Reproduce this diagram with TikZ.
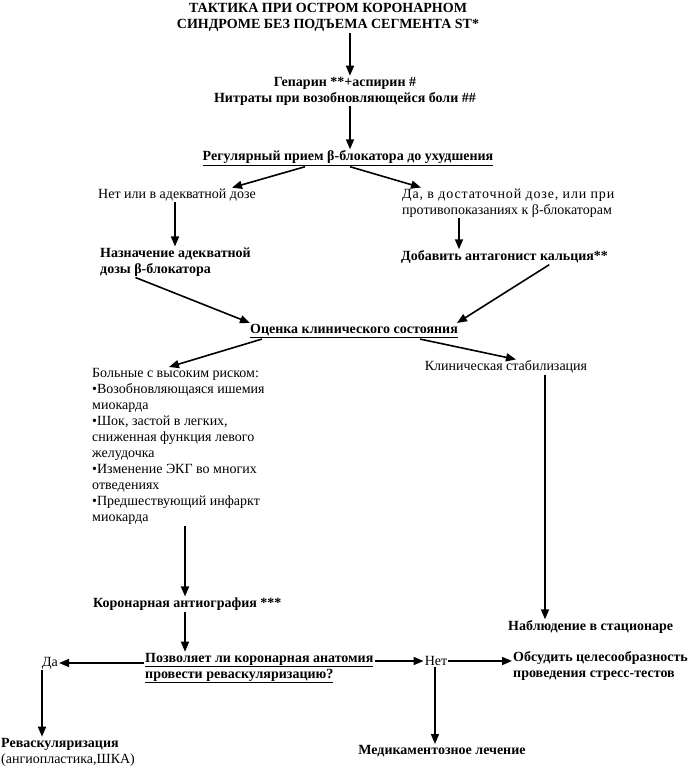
\documentclass[tikz,border=0pt]{standalone}
\usepackage{fontspec}
\setmainfont{Liberation Serif}
\usetikzlibrary{arrows.meta}

\begin{document}
\begin{tikzpicture}[x=1pt,y=-1pt,
	every node/.style={inner sep=1pt, font=\fontsize{14}{16}\selectfont},
	hd/.style={font=\fontsize{14}{16}\selectfont\bfseries},
	arr/.style={-{Triangle[length=10pt,width=8pt]},line width=1.6pt}]
	\useasboundingbox (0,0) rectangle (700,776);

	\node[hd,align=center] (t) at (328,17) {ТАКТИКА ПРИ ОСТРОМ КОРОНАРНОМ\\СИНДРОМЕ БЕЗ ПОДЪЕМА СЕГМЕНТА ST*};
	\node[hd,align=center] (g) at (345,91) {Гепарин **+аспирин \#\\Нитраты при возобновляющейся боли \#\#};
	\node[hd] (bb) at (348,158) {\underline{Регулярный прием β-блокатора до ухудшения}};

	\node (no) at (177,195) {Нет или в адекватной дозе};
	\node[anchor=west,align=left] (yes) at (401,203) {{\addfontfeature{LetterSpace=6}Да, в достаточной дозе, или при}\\противопоказаниях к β-блокаторам};
	\node[hd,anchor=west,align=left] (dose) at (99,262) {Назначение адекватной\\дозы β-блокатора};
	\node[hd,anchor=west] (ca) at (400,257) {Добавить антагонист кальция**};

	\node[hd] (eval) at (354,331) {\underline{Оценка клинического состояния}};
	\node[anchor=north west,align=left] (risk) at (91,367) {Больные с высоким риском:\\
		•Возобновляющаяся ишемия\\миокарда\\
		•Шок, застой в легких,\\сниженная функция левого\\желудочка\\
		•Изменение ЭКГ во многих\\отведениях\\
		•Предшествующий инфаркт\\миокарда};
	\node (stab) at (506,367) {Клиническая стабилизация};
	\node[hd,anchor=west] (obs) at (507,627) {Наблюдение в стационаре};

	\node[hd,anchor=west] (cag) at (92,604) {Коронарная антиография ***};
	\node[hd,anchor=west,align=left] (q) at (144,668) {\underline{Позволяет ли коронарная анатомия}\\\underline{провести реваскуляризацию?}};
	\node (yes2) at (50,663) {Да};
	\node (no2) at (436,661) {Нет};
	\node[hd,anchor=west,align=left] (disc) at (512,666) {Обсудить целесообразность\\проведения стресс-тестов};
	\node[anchor=west,align=left] (rev) at (0,752) {\textbf{Реваскуляризация}\\(ангиопластика,ШКА)};
	\node[hd] (med) at (442,751) {Медикаментозное лечение};

	\draw [arr] (350,33) -- (g.north -| 350,0);
	\draw [arr] (g.south -| 350,0) -- (bb.north -| 350,0);
	\draw [arr] ([xshift=-43pt]bb.south) -- ([xshift=55pt]no.north);
	\draw [arr] ([xshift=2pt]bb.south) -- ([xshift=20pt]yes.north west);
	\draw [arr] (no.south -| 175,0) -- (dose.north -| 175,0);
	\draw [arr] (yes.south -| 459,0) -- (ca.north -| 459,0);
	\draw [arr] ([xshift=-40pt]dose.south) -- ([xshift=-104pt]eval.north);
	\draw [arr] ([xshift=-60pt]ca.south east) -- ([xshift=103pt]eval.north);
	\draw [arr] ([xshift=-92pt]eval.south) -- ([xshift=78pt]risk.north west);
	\draw [arr] ([xshift=66pt]eval.south) -- ([xshift=10pt]stab.north);
	\draw [arr] (stab.south -| 545,0) -- (obs.north -| 545,0);
	\draw [arr] (risk.south -| 185,0) -- (cag.north -| 185,0);
	\draw [arr] (cag.south -| 185,0) -- (q.north -| 185,0);
	\draw [arr] (q.west |- yes2) -- (yes2.east);
	\draw [arr] (q.east |- no2) -- (no2.west);
	\draw [arr] (no2.east) -- (no2.east -| disc.west);
	\draw [arr] (no2.south -| 435,0) -- (med.north -| 435,0);
	\draw [arr] (yes2.south -| 42,0) -- (rev.north -| 42,0);
\end{tikzpicture}
\end{document}
